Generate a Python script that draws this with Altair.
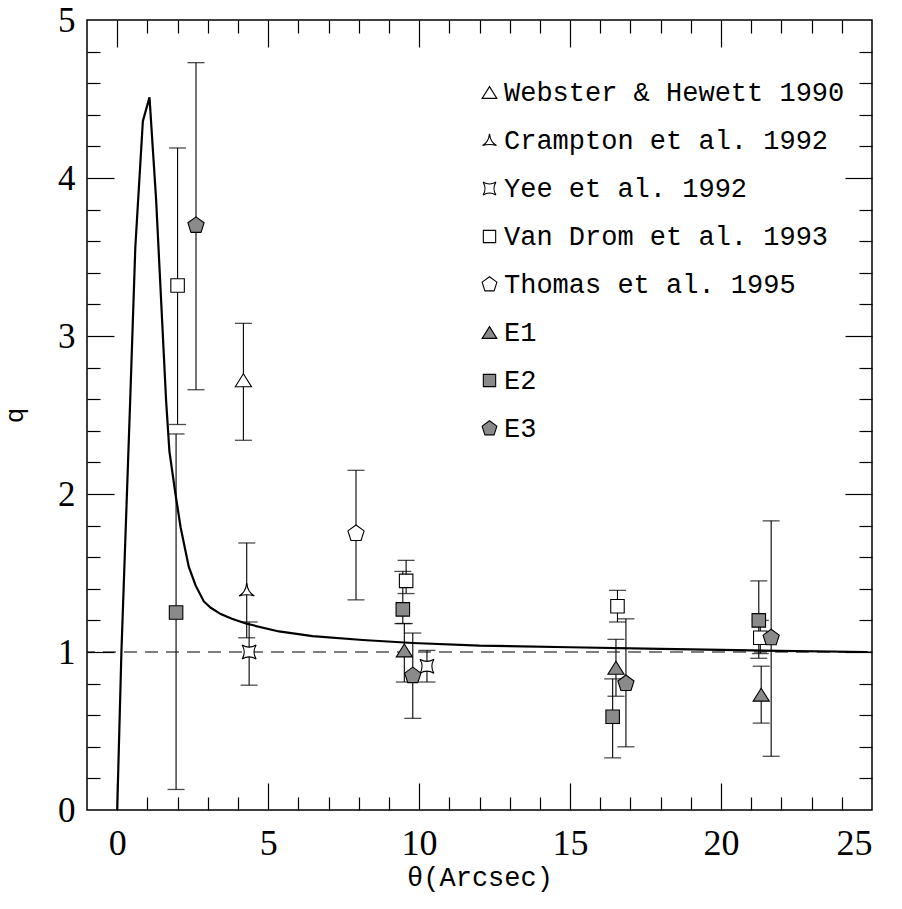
import altair as alt
import pandas as pd

# ---------------- data ----------------
curve_theta = [0.0, 0.14, 0.43, 0.60, 0.85, 1.07, 1.29, 1.62, 1.73, 1.93, 2.10, 2.37, 2.60,
               2.87, 3.10, 3.43, 3.80, 4.26, 5.36, 6.47, 8.13, 9.79, 12.0, 15.0, 18.0, 21.0, 24.85]
curve_q = [0.0, 1.00, 2.59, 3.56, 4.36, 4.51, 3.86, 2.59, 2.27, 2.00, 1.79, 1.54, 1.42,
           1.32, 1.28, 1.24, 1.21, 1.18, 1.13, 1.10, 1.076, 1.057, 1.04, 1.03, 1.02, 1.01, 1.00]

series_names = ["Webster & Hewett 1990", "Crampton et al. 1992", "Yee et al. 1992",
                "Van Drom et al. 1993", "Thomas et al. 1995", "E1", "E2", "E3"]

webster_theta = [4.18]
webster_q = [2.72]
webster_lo = [2.34]
webster_hi = [3.08]

crampton_theta = [4.29]
crampton_q = [1.39]
crampton_lo = [1.09]
crampton_hi = [1.69]

yee_theta = [4.37, 10.26]
yee_q = [1.00, 0.91]
yee_lo = [0.79, 0.81]
yee_hi = [1.19, 1.01]

vandrom_theta = [2.00, 9.57, 16.57, 21.30]
vandrom_q = [3.32, 1.45, 1.29, 1.09]
vandrom_lo = [2.44, 1.37, 1.19, 0.99]
vandrom_hi = [4.19, 1.58, 1.39, 1.20]

thomas_theta = [7.91]
thomas_q = [1.75]
thomas_lo = [1.33]
thomas_hi = [2.15]

e1_theta = [9.51, 16.52, 21.33]
e1_q = [1.01, 0.90, 0.73]
e1_lo = [0.81, 0.72, 0.55]
e1_hi = [1.18, 1.08, 0.91]

e2_theta = [1.95, 9.46, 16.41, 21.25]
e2_q = [1.25, 1.27, 0.59, 1.20]
e2_lo = [0.13, 1.18, 0.33, 0.96]
e2_hi = [2.38, 1.51, 0.83, 1.45]

e3_theta = [2.61, 9.79, 16.85, 21.66]
e3_q = [3.70, 0.85, 0.80, 1.09]
e3_lo = [2.66, 0.58, 0.40, 0.34]
e3_hi = [4.73, 1.12, 1.21, 1.83]

ref_q = [1.0]

x_ticks = list(range(0, 25))
x_labels = [0, 5, 10, 15, 20, 25]
y_ticks = [round(i * 0.2, 1) for i in range(1, 25)]
y_labels = [0, 1, 2, 3, 4, 5]

# ---------------- tables ----------------
groups = [
    (series_names[0], webster_theta, webster_q, webster_lo, webster_hi),
    (series_names[1], crampton_theta, crampton_q, crampton_lo, crampton_hi),
    (series_names[2], yee_theta, yee_q, yee_lo, yee_hi),
    (series_names[3], vandrom_theta, vandrom_q, vandrom_lo, vandrom_hi),
    (series_names[4], thomas_theta, thomas_q, thomas_lo, thomas_hi),
    (series_names[5], e1_theta, e1_q, e1_lo, e1_hi),
    (series_names[6], e2_theta, e2_q, e2_lo, e2_hi),
    (series_names[7], e3_theta, e3_q, e3_lo, e3_hi),
]
rows, caps = [], []
for name, th, q, lo, hi in groups:
    for a, b, c, d in zip(th, q, lo, hi):
        rows.append({"series": name, "theta": a, "q": b, "lo": c, "hi": d})
        caps.append({"theta": a, "qc": c})
        caps.append({"theta": a, "qc": d})
pts = pd.DataFrame(rows)
caps_df = pd.DataFrame(caps)
curve_df = pd.DataFrame({"theta": curve_theta, "q": curve_q})
ref_df = pd.DataFrame({"q": ref_q})

# ---------------- style ----------------
W, H = 785, 790
LABEL_FONT = "Liberation Serif"
LEG_FONT = "Liberation Mono"

xs = alt.Scale(domain=[-1, 25], nice=False, zero=False)
ys = alt.Scale(domain=[0, 5], nice=False, zero=False)

x_tick_size = {"condition": {"test": "datum.value % 5 === 0", "value": 27}, "value": 13}
y_tick_size = {"condition": {"test": "abs(datum.value - round(datum.value)) < 0.001", "value": 27}, "value": 13}

def tick_axis(orient, offset, values, size):
    return alt.Axis(orient=orient, offset=offset, values=values, tickSize=size,
                    labels=False, domain=False, grid=False, title=None,
                    tickColor="black", tickWidth=1.2)

x_label_axis = alt.Axis(orient="bottom", values=x_labels, ticks=False, tickSize=0,
                        domain=False, grid=False, labelFont=LABEL_FONT, labelFontSize=36,
                        labelColor="black", labelPadding=16, title="θ(Arcsec)",
                        titleFont=LEG_FONT, titleFontSize=27, titleFontWeight="normal",
                        titleColor="black", titlePadding=3)
y_label_axis = alt.Axis(orient="left", values=y_labels, ticks=False, tickSize=0,
                        domain=False, grid=False, labelFont=LABEL_FONT, labelFontSize=35,
                        labelColor="black", labelPadding=12, title="q",
                        titleFont=LEG_FONT, titleFontSize=26, titleFontWeight="normal",
                        titleColor="black", titlePadding=30)

curve = alt.Chart(curve_df).mark_line(color="black", strokeWidth=2.2).encode(
    x=alt.X("theta:Q", scale=xs, axis=x_label_axis),
    y=alt.Y("q:Q", scale=ys, axis=y_label_axis),
)

dashed = alt.Chart(ref_df).mark_rule(color="black", strokeWidth=1.1, strokeDash=[13, 8]).encode(
    y=alt.Y("q:Q", scale=ys, axis=None),
)

errbars = alt.Chart(pts).mark_rule(color="black", strokeWidth=1.1).encode(
    x=alt.X("theta:Q", scale=xs, axis=tick_axis("top", -H, x_ticks, x_tick_size)),
    y=alt.Y("lo:Q", scale=ys, axis=tick_axis("right", -W, y_ticks, y_tick_size)),
    y2="hi:Q",
)

capmarks = alt.Chart(caps_df).mark_tick(color="black", orient="horizontal", size=17, thickness=1.3).encode(
    x=alt.X("theta:Q", scale=xs, axis=tick_axis("bottom", -H, x_ticks, x_tick_size)),
    y=alt.Y("qc:Q", scale=ys, axis=tick_axis("left", -W, y_ticks, y_tick_size)),
)

shapes = [
    "M0,-0.72L0.9,0.72L-0.9,0.72Z",
    "M0,-0.8Q0.12,0.25 0.85,0.62Q0,0.36 -0.85,0.62Q-0.12,0.25 0,-0.8Z",
    "M-0.78,-0.78Q0,-0.3 0.78,-0.78Q0.3,0 0.78,0.78Q0,0.3 -0.78,0.78Q-0.3,0 -0.78,-0.78Z",
    "M-0.75,-0.75L0.75,-0.75L0.75,0.75L-0.75,0.75Z",
    "M0,-0.95L0.9,-0.29L0.56,0.77L-0.56,0.77L-0.9,-0.29Z",
    "M0,-0.72L0.9,0.72L-0.9,0.72Z",
    "M-0.75,-0.75L0.75,-0.75L0.75,0.75L-0.75,0.75Z",
    "M0,-0.95L0.9,-0.29L0.56,0.77L-0.56,0.77L-0.9,-0.29Z",
]
fills = ["white"] * 5 + ["#8a8a8a"] * 3
strokes = ["black"] * 8

def make_legend():
    return alt.Legend(title=None, symbolStrokeWidth=1.1)

points = alt.Chart(pts).mark_point(filled=True, strokeWidth=1.1, opacity=1, size=324).encode(
    x=alt.X("theta:Q", scale=xs, axis=None),
    y=alt.Y("q:Q", scale=ys, axis=None),
    shape=alt.Shape("series:N", scale=alt.Scale(domain=series_names, range=shapes),
                    legend=make_legend()),
    fill=alt.Fill("series:N", scale=alt.Scale(domain=series_names, range=fills),
                  legend=make_legend()),
    stroke=alt.Stroke("series:N", scale=alt.Scale(domain=series_names, range=strokes),
                      legend=make_legend()),
)

chart = alt.layer(curve, dashed, errbars, capmarks, points).resolve_axis(
    x="independent", y="independent"
).properties(
    width=W, height=H,
    padding={"left": 87, "top": 20, "right": 30, "bottom": 99},
    autosize=alt.AutoSizeParams(type="none"),
    background="white",
).configure_view(
    stroke="black", strokeWidth=1.5
).configure_legend(
    orient="none", legendX=389, legendY=59, padding=0,
    labelFont=LEG_FONT, labelFontSize=27, labelColor="black", labelOffset=1,
    symbolSize=270, symbolStrokeWidth=1.1,
    rowPadding=20, labelLimit=600,
)

chart.save("out.html", embed_options={"renderer": "svg", "actions": False})
